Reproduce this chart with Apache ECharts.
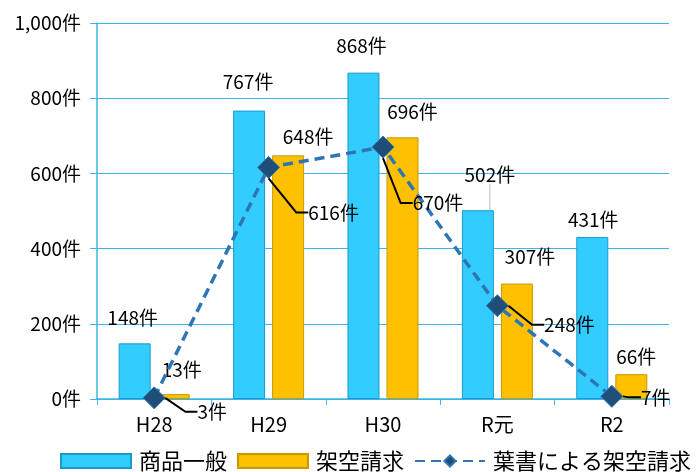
<!DOCTYPE html>
<html><head><meta charset="utf-8">
<script src="https://cdn.jsdelivr.net/npm/echarts@6/dist/echarts.min.js"></script>
<style>html,body{margin:0;padding:0;background:#fff}#c{width:696px;height:472px}</style>
</head><body><div id="c"></div>
<script>
const categories = ['H28', 'H29', 'H30', 'R元', 'R2'];
const seriesNames = ['商品一般', '架空請求', '葉書による架空請求'];
const generalGoods = [148, 767, 868, 502, 431];
const fictitiousBilling = [13, 648, 696, 307, 66];
const postcardBilling = [3, 616, 670, 248, 7];
const yTicks = [0, 200, 400, 600, 800, 1000];

const FONT = '"Noto Sans CJK JP", "Noto Sans", sans-serif';
const AXIS_BLUE = '#3AB7E6';
const fmt = v => String(v).replace(/\B(?=(\d{3})+(?!\d))/g, ',') + '件';

// label nudges (pixels), kept apart from data
const blueNudge = [[-2,-11],[-1,-14],[-2,-12],[12,-21],[1,-3]];
const orangeNudge = [[8,-10],[20,-4],[10,-11],[13,-12],[5,-3]];
const lineNudge = [[58,14],[65,45],[55,56],[72,19],[44,1]];

const chart = echarts.init(document.getElementById('c'), null, {renderer: 'canvas'});
chart.setOption({
  animation: false,
  textStyle: {fontFamily: FONT},
  grid: {left: 97, right: 27, top: 23, bottom: 73, containLabel: false},
  legend: {
    top: 445, left: 55, width: 660, padding: 5,
    itemWidth: 70, itemHeight: 14, itemGap: 10,
    textStyle: {fontSize: 22, color: '#000', fontFamily: FONT, padding: [0, 0, 0, 3]},
    data: [
      {name: seriesNames[0], icon: 'rect'},
      {name: seriesNames[1], icon: 'rect'},
      {name: seriesNames[2]}
    ]
  },
  xAxis: {
    type: 'category', data: categories,
    axisLine: {lineStyle: {color: AXIS_BLUE, width: 1.5}},
    axisTick: {show: true, length: 6, lineStyle: {color: AXIS_BLUE}},
    axisLabel: {fontSize: 20, color: '#000', margin: 15, fontFamily: FONT}
  },
  yAxis: {
    type: 'value', min: yTicks[0], max: yTicks[yTicks.length-1], interval: 200,
    axisLine: {show: true, lineStyle: {color: AXIS_BLUE, width: 1.5}},
    axisTick: {show: true, length: 7, lineStyle: {color: AXIS_BLUE}},
    splitLine: {lineStyle: {color: AXIS_BLUE, width: 1}},
    axisLabel: {fontSize: 19, color: '#000', margin: 16, formatter: fmt, fontFamily: FONT}
  },
  series: [
    {
      name: seriesNames[0], type: 'bar', barWidth: 32, barGap: '22%',
      itemStyle: {color: '#33CCFF', borderColor: '#1A9ACB', borderWidth: 1},
      data: generalGoods.map((v, i) => i === 3 ? {value: v, labelLine: {show: true}} : v),
      label: {show: true, position: 'top', formatter: p => fmt(p.value), fontSize: 19, color: '#000', fontFamily: FONT},
      labelLine: {show: false, lineStyle: {color: '#BBBBBB', width: 1}},
      labelLayout: p => ({dx: blueNudge[p.dataIndex][0], dy: blueNudge[p.dataIndex][1]}),
      z: 2
    },
    {
      name: seriesNames[1], type: 'bar', barWidth: 32,
      itemStyle: {color: '#FFC000', borderColor: '#C99A00', borderWidth: 1},
      data: fictitiousBilling,
      label: {show: true, position: 'top', formatter: p => fmt(p.value), fontSize: 19, color: '#000', fontFamily: FONT},
      labelLayout: p => ({dx: orangeNudge[p.dataIndex][0], dy: orangeNudge[p.dataIndex][1]}),
      z: 2
    },
    {
      name: seriesNames[2], type: 'line', data: postcardBilling,
      symbol: 'diamond', symbolSize: 22,
      lineStyle: {color: '#2E75B6', width: 3.5, type: [10, 6]},
      itemStyle: {color: '#1F4E79', borderColor: '#2E75B6', borderWidth: 1},
      label: {show: true, position: 'inside', formatter: p => fmt(p.value), fontSize: 19, color: '#000', fontFamily: FONT},
      labelLine: {show: true, length2: 12, lineStyle: {color: '#000', width: 2}},
      labelLayout: p => ({dx: lineNudge[p.dataIndex][0], dy: lineNudge[p.dataIndex][1]}),
      z: 5
    }
  ]
});
</script>
</body></html>
